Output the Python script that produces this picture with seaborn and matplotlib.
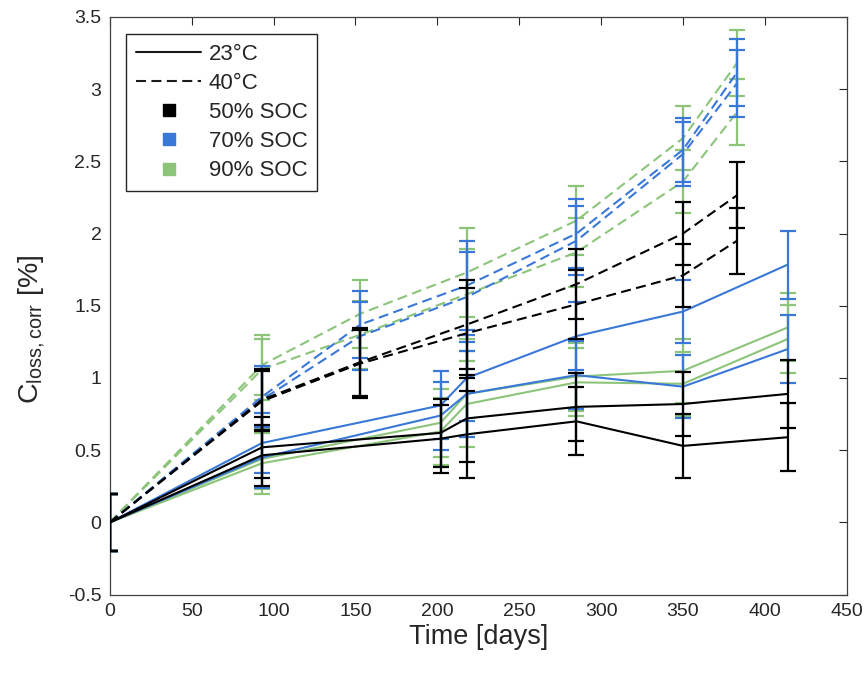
import numpy as np
import pandas as pd
import matplotlib
matplotlib.use('Agg')
import matplotlib.pyplot as plt
import seaborn as sns
from matplotlib.lines import Line2D
from matplotlib.ticker import FuncFormatter

# measurement days per storage temperature
t_23 = [0, 93, 202, 218, 285, 350, 414]
t_40 = [0, 93, 153, 218, 285, 350, 383]

# half width of the error bars at each measurement
err_23 = [0.2, 0.21, 0.235, 0.30, 0.235, 0.22, 0.235]
err_40 = [0.2, 0.21, 0.235, 0.31, 0.24, 0.22, 0.23]

# capacity loss [%], two cells per condition
soc50_23_a = [0, 0.52, 0.62, 0.72, 0.80, 0.82, 0.89]
soc50_23_b = [0, 0.465, 0.58, 0.61, 0.70, 0.53, 0.59]
soc70_23_a = [0, 0.55, 0.81, 1.00, 1.29, 1.46, 1.785]
soc70_23_b = [0, 0.45, 0.74, 0.89, 1.02, 0.94, 1.20]
soc90_23_a = [0, 0.44, 0.69, 0.89, 1.01, 1.05, 1.35]
soc90_23_b = [0, 0.41, 0.63, 0.82, 0.97, 0.96, 1.27]

soc50_40_a = [0, 0.85, 1.11, 1.37, 1.65, 2.00, 2.265]
soc50_40_b = [0, 0.84, 1.10, 1.31, 1.51, 1.71, 1.95]
soc70_40_a = [0, 0.87, 1.37, 1.64, 2.00, 2.58, 3.115]
soc70_40_b = [0, 0.85, 1.29, 1.56, 1.95, 2.55, 3.04]
soc90_40_a = [0, 1.09, 1.445, 1.73, 2.09, 2.66, 3.18]
soc90_40_b = [0, 1.06, 1.30, 1.58, 1.87, 2.36, 2.84]

soc_labels = ['50% SOC', '70% SOC', '90% SOC']
temp_labels = ['23°C', '40°C']
colors = {'50% SOC': '#000000', '70% SOC': '#3a78d8', '90% SOC': '#8cc47a'}

cells = [
    ('23°C', '50% SOC', t_23, err_23, soc50_23_a), ('23°C', '50% SOC', t_23, err_23, soc50_23_b),
    ('23°C', '70% SOC', t_23, err_23, soc70_23_a), ('23°C', '70% SOC', t_23, err_23, soc70_23_b),
    ('23°C', '90% SOC', t_23, err_23, soc90_23_a), ('23°C', '90% SOC', t_23, err_23, soc90_23_b),
    ('40°C', '50% SOC', t_40, err_40, soc50_40_a), ('40°C', '50% SOC', t_40, err_40, soc50_40_b),
    ('40°C', '70% SOC', t_40, err_40, soc70_40_a), ('40°C', '70% SOC', t_40, err_40, soc70_40_b),
    ('40°C', '90% SOC', t_40, err_40, soc90_40_a), ('40°C', '90% SOC', t_40, err_40, soc90_40_b),
]

rows = []
for i, (temp, soc, t, e, vals) in enumerate(cells):
    for tt, ee, vv in zip(t, e, vals):
        rows.append({'time': tt, 'closs': vv, 'err': ee, 'temp': temp, 'soc': soc, 'cell': i})
df = pd.DataFrame(rows)

sns.set_theme(style='white')
plt.rcParams['font.family'] = ['Liberation Sans', 'DejaVu Sans']
plt.rcParams['mathtext.fontset'] = 'custom'
plt.rcParams['mathtext.rm'] = 'Liberation Sans'
plt.rcParams['mathtext.it'] = 'Liberation Sans:italic'

fig = plt.figure(figsize=(8.64, 6.75), dpi=100)
ax = fig.add_axes([0.127, 0.119, 0.853, 0.856])

dash = (4.8, 2.6)
# green first, black on top
z = {'90% SOC': 2, '70% SOC': 3, '50% SOC': 4}
for soc in ['90% SOC', '70% SOC', '50% SOC']:
    sub = df[df.soc == soc]
    sns.lineplot(data=sub, x='time', y='closs', style='temp', units='cell', estimator=None,
                 color=colors[soc], style_order=temp_labels,
                 dashes={'23°C': '', '40°C': dash}, lw=1.5, legend=False,
                 ax=ax, zorder=z[soc])
    ax.errorbar(sub['time'], sub['closs'], yerr=sub['err'], fmt='none', ecolor=colors[soc],
                elinewidth=1.6, capsize=5.5, capthick=1.6, zorder=z[soc])

ax.set_xlim(0, 450)
ax.set_ylim(-0.5, 3.5)
ax.set_xticks(np.arange(0, 451, 50))
ax.set_yticks(np.arange(-0.5, 3.51, 0.5))
ax.yaxis.set_major_formatter(FuncFormatter(lambda v, p: f'{v:g}'))
ax.tick_params(direction='in', length=6, width=0.8, top=True, right=True,
               labelsize=14, colors='#262626', pad=6)
for s in ax.spines.values():
    s.set_color('#404040')
    s.set_linewidth(0.9)

ax.set_xlabel('Time [days]', fontsize=19.5, color='#262626', labelpad=3)
ax.set_ylabel(r'C$_{\mathrm{loss,corr}}$ [%]', fontsize=20.5, color='#262626', labelpad=5)
ax.yaxis.set_label_coords(-0.085, 0.46)

handles = [Line2D([], [], color='k', lw=1.5, ls='-'),
           Line2D([], [], color='k', lw=1.5, ls=(0, dash))]
for soc in soc_labels:
    handles.append(Line2D([], [], ls='none', marker='s', ms=9, color=colors[soc]))
leg = ax.legend(handles, temp_labels + soc_labels, loc='upper left', fontsize=16,
                handlelength=2.9, handletextpad=0.35, borderaxespad=0.75, fancybox=False,
                framealpha=1, edgecolor='#262626', labelspacing=0.37, borderpad=0.45)
leg.get_frame().set_linewidth(1.0)

fig.savefig('out.png', dpi=100)
